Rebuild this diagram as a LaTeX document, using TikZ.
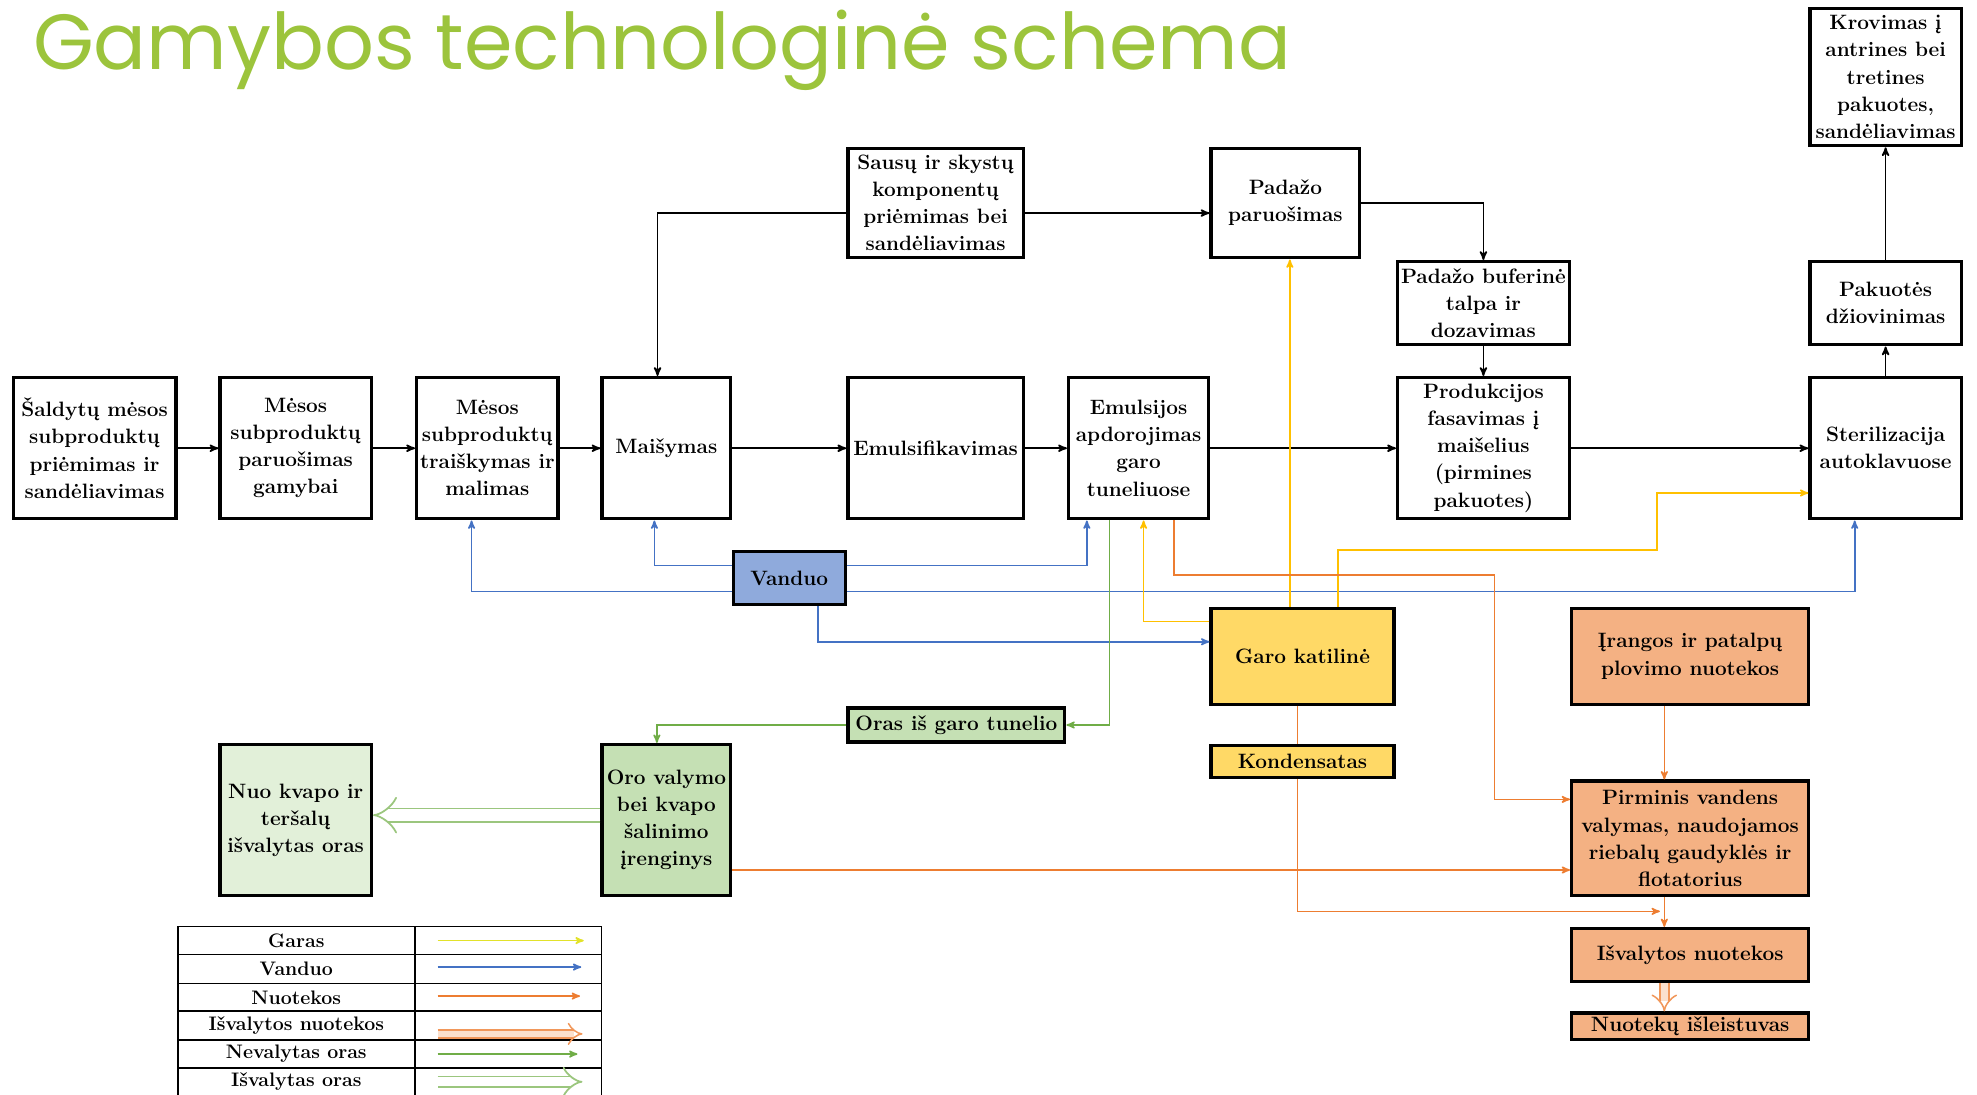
\documentclass[tikz,border=0pt]{standalone}
\usepackage{fontspec}
\IfFontExistsTF{Poppins-Light.otf}{\newfontfamily\titlefont{Poppins-Light.otf}}{\newfontfamily\titlefont{Poppins}}
\usetikzlibrary{arrows,arrows.meta}

\definecolor{titlegreen}{HTML}{9CC43C}
\definecolor{steamcol}{HTML}{FFC000}
\definecolor{steamleg}{HTML}{E2E22A}
\definecolor{watercol}{HTML}{4472C4}
\definecolor{wastecol}{HTML}{ED7D31}
\definecolor{aircol}{HTML}{70AD47}
\definecolor{waterfill}{HTML}{8FAADC}
\definecolor{steamfill}{HTML}{FFD966}
\definecolor{airfill}{HTML}{C5E0B4}
\definecolor{cleanfill}{HTML}{E2F0D9}
\definecolor{wastefill}{HTML}{F4B183}

\begin{document}
\begin{tikzpicture}[x=1pt,y=-1pt,->,>=stealth',auto,
  box/.style={draw,line width=2.6pt,align=center,inner sep=1pt,font=\fontsize{16.5}{21.5}\selectfont\bfseries},
  main node/.style={box,fill=white},
  water node/.style={box,fill=waterfill},
  steam node/.style={box,fill=steamfill},
  air node/.style={box,fill=airfill},
  clean node/.style={box,fill=cleanfill},
  waste node/.style={box,fill=wastefill},
  legend text/.style={inner sep=0pt,font=\fontsize{15.5}{18}\selectfont\bfseries},
  flow/.style={line width=1.4pt},
  water line/.style={draw=watercol,line width=1.3pt},
  steam line/.style={draw=steamcol,line width=1.3pt},
  waste line/.style={draw=wastecol,line width=1.3pt},
  air line/.style={draw=aircol,line width=1.3pt},
  clean air/.style={-{Implies[scale=1.5]},draw=aircol!70,double=white,double distance=9pt,line width=1.4pt},
  clean waste/.style={-{Implies},draw=wastecol!80,double=wastefill!40,double distance=6pt,line width=1.2pt}]
  \useasboundingbox (0,0) rectangle (1568,868);

  \node[anchor=base west,inner sep=0pt,text=titlegreen,font=\titlefont\fontsize{62}{70}\selectfont] (title) at (26,55) {Gamybos technologinė schema};

  % pagrindinė eilė
  \node[main node,minimum width=129pt,minimum height=112pt] (1) at (75,355.5) {Šaldytų mėsos\\subproduktų\\priėmimas ir\\sandėliavimas};
  \node[main node,minimum width=120pt,minimum height=112pt] (2) at (234.5,355.5) {Mėsos\\subproduktų\\paruošimas\\gamybai};
  \node[main node,minimum width=112pt,minimum height=112pt] (3) at (386.5,355.5) {Mėsos\\subproduktų\\traiškymas ir\\malimas};
  \node[main node,minimum width=102pt,minimum height=112pt] (4) at (528.5,355.5) {Maišymas};
  \node[main node,minimum width=139pt,minimum height=112pt] (5) at (742,355.5) {Emulsifikavimas};
  \node[main node,minimum width=111pt,minimum height=112pt] (6) at (903,355.5) {Emulsijos\\apdorojimas\\garo\\tuneliuose};
  \node[main node,minimum width=136pt,minimum height=112pt] (7) at (1176.5,355.5) {Produkcijos\\fasavimas į\\maišelius\\(pirmines\\pakuotes)};
  \node[main node,minimum width=120pt,minimum height=112pt] (8) at (1495.5,355.5) {Sterilizacija\\autoklavuose};

  \node[main node,minimum width=139pt,minimum height=87pt] (9) at (742,161) {Sausų ir skystų\\komponentų\\priėmimas bei\\sandėliavimas};
  \node[main node,minimum width=118pt,minimum height=87pt] (10) at (1019.5,161) {Padažo\\paruošimas};
  \node[main node,minimum width=136pt,minimum height=66pt] (11) at (1176.5,240.5) {Padažo buferinė\\talpa ir\\dozavimas};
  \node[main node,minimum width=120pt,minimum height=66pt] (12) at (1495.5,240.5) {Pakuotės\\džiovinimas};
  \node[main node,minimum width=120pt,minimum height=109pt] (13) at (1495.5,61) {Krovimas į\\antrines bei\\tretines\\pakuotes,\\sandėliavimas};

  % pagalbiniai srautai
  \node[water node,minimum width=89pt,minimum height=42pt] (14) at (626,458.5) {Vanduo};
  \node[steam node,minimum width=145pt,minimum height=76pt] (15) at (1033,520.5) {Garo katilinė};
  \node[steam node,minimum width=145pt,minimum height=25pt] (16) at (1033,604) {Kondensatas};
  \node[air node,minimum width=172pt,minimum height=27pt] (17) at (758.5,575) {Oras iš garo tunelio};
  \node[air node,minimum width=102pt,minimum height=120pt] (18) at (528.5,650.5) {Oro valymo\\bei kvapo\\šalinimo\\įrenginys};
  \node[clean node,minimum width=120pt,minimum height=120pt] (19) at (234.5,650.5) {Nuo kvapo ir\\teršalų\\išvalytas oras};
  \node[waste node,minimum width=188pt,minimum height=76pt] (20) at (1340.5,520.5) {Įrangos ir patalpų\\plovimo nuotekos};
  \node[waste node,minimum width=188pt,minimum height=91pt] (21) at (1340.5,665) {Pirminis vandens\\valymas, naudojamos\\riebalų gaudyklės ir\\flotatorius};
  \node[waste node,minimum width=188pt,minimum height=42pt] (22) at (1340.5,757.5) {Išvalytos nuotekos};
  \node[waste node,minimum width=188pt,minimum height=21pt] (23) at (1340.5,814) {Nuotekų išleistuvas};

  \path[flow]
    (1) edge (2)
    (2) edge (3)
    (3) edge (4)
    (4) edge (5)
    (5) edge (6)
    (6) edge (7)
    (7) edge (8)
    (8) edge (12)
    (12) edge (13)
    (11) edge (7);
  \draw[flow] ([yshift=-8pt]9.east) -- ([yshift=-8pt]9.east -| 10.west);
  \draw[flow] ([yshift=-8pt]9.west) -| ([xshift=-7pt]4.north);
  \draw[flow] (10.east) -| (11.north);

  \draw[water line] ([yshift=10pt]14.west) -| ([xshift=-9.5pt]4.south);
  \draw[water line] ([yshift=10pt]14.east) -| ([xshift=-41pt]6.south);
  \draw[water line] ([yshift=-10.5pt]14.west) -| ([xshift=-12.5pt]3.south);
  \draw[water line] ([yshift=-10.5pt]14.east) -| ([xshift=-24.5pt]8.south);
  \draw[water line] ([xshift=23pt]14.south) |- ([yshift=11.5pt]15.west);

  \draw[steam line] ([xshift=-10pt]15.north) -- ([xshift=-10pt]15.north |- 10.south);
  \draw[steam line] ([xshift=28pt]15.north) -- ++(0,-45) -| ([xshift=-120pt,yshift=-35.5pt]8.west) -- ([yshift=-35.5pt]8.west);
  \draw[steam line] ([yshift=27.5pt]15.west) -| ([xshift=4pt]6.south);

  \draw[waste line] ([xshift=28pt]6.south) -- ++(0,43) -| ([xshift=-60pt,yshift=31pt]21.west) -- ([yshift=31pt]21.west);
  \draw[waste line] ([yshift=-39.5pt]18.east) -- ([yshift=-39.5pt]18.east -| 21.west);
  \draw[waste line,-] ([xshift=-4pt]15.south) -- ([xshift=-4pt]16.north);
  \draw[waste line] ([xshift=-4pt]16.south) |- ([xshift=-24pt,yshift=-11pt]21.south);
  \draw[waste line] ([xshift=-20.5pt]20.south) -- ([xshift=-20.5pt]21.north);
  \draw[waste line] ([xshift=-20.5pt]21.south) -- ([xshift=-20.5pt]22.north);
  \draw[clean waste] ([xshift=-20.5pt]22.south) -- ([xshift=-20.5pt]23.north);

  \draw[air line] ([xshift=-23pt]6.south) |- (17.east);
  \draw[air line] (17.west) -| ([xshift=-7.5pt]18.north);
  \draw[clean air] ([yshift=4pt]18.west) -- ([yshift=4pt]19.east);

  % legenda
  \draw[-,line width=1.2pt] (141,735) rectangle (477,872)
    (141,757) -- (477,757) (141,780) -- (477,780) (141,802) -- (477,802)
    (141,825) -- (477,825) (141,847) -- (477,847) (329,735) -- (329,872);
  \node[legend text] (l1) at (235,746) {Garas};
  \node[legend text] (l2) at (235,768.5) {Vanduo};
  \node[legend text] (l3) at (235,791) {Nuotekos};
  \node[legend text] (l4) at (235,813.5) {Išvalytos nuotekos};
  \node[legend text] (l5) at (235,836) {Nevalytas oras};
  \node[legend text] (l6) at (235,857.5) {Išvalytas oras};
  \coordinate (a1) at (347,746);   \coordinate (b1) at (463,746);
  \coordinate (a2) at (347,767);   \coordinate (b2) at (461,767);
  \coordinate (a3) at (347,790);   \coordinate (b3) at (460,790);
  \coordinate (a4) at (347,820);   \coordinate (b4) at (462,820);
  \coordinate (a5) at (347,836);   \coordinate (b5) at (458,836);
  \coordinate (a6) at (347,858);   \coordinate (b6) at (462,858);
  \draw[steam line,draw=steamleg] (a1) -- (b1);
  \draw[water line] (a2) -- (b2);
  \draw[waste line] (a3) -- (b3);
  \draw[clean waste,double distance=5pt] (a4) -- (b4);
  \draw[air line] (a5) -- (b5);
  \draw[clean air,double distance=7pt,-{Implies}] (a6) -- (b6);
\end{tikzpicture}
\end{document}
